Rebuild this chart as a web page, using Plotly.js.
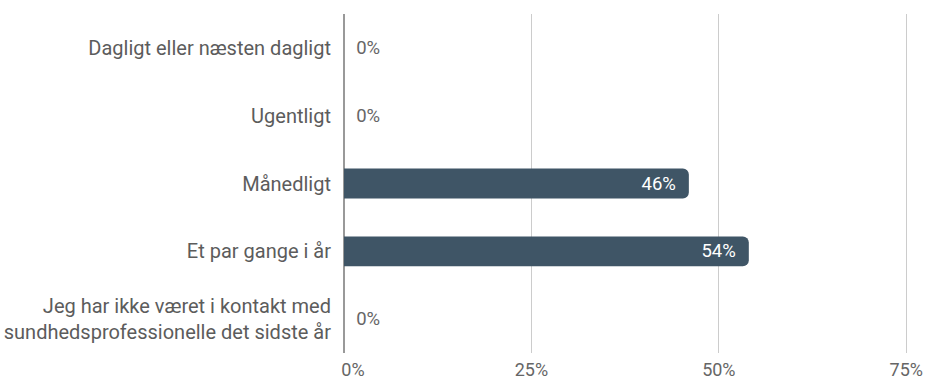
<!DOCTYPE html>
<html><head><meta charset="utf-8">
<script src="https://cdn.plot.ly/plotly-3.0.1.min.js"></script>
<style>html,body{margin:0;padding:0;background:#fff}</style>
</head><body>
<div id="chart" style="width:925px;height:381px"></div>
<script>
const categories = ["Dagligt eller næsten dagligt","Ugentligt","Månedligt","Et par gange i år","Jeg har ikke været i kontakt med<br>sundhedsprofessionelle det sidste år"];
const values = [0, 0, 46, 54, 0];
const tickVals = [0, 25, 50, 75];
const tickText = ["0%", "25%", "50%", "75%"];

const NB = "\u00a0\u00a0";
const labels = values.map(v => v + "%");
const inside = values.map(v => v > 10);
const positions = inside.map(i => i ? "inside" : "outside");
const templates = inside.map(i => i ? "%{text}" + NB : NB + "%{text}");
const textColors = inside.map(i => i ? "#ffffff" : "#666666");
const shownTicks = tickText.map((t, i) => i === 0 ? NB + NB + t : t);

Plotly.newPlot("chart", [{
  type: "bar",
  orientation: "h",
  y: categories,
  x: values,
  text: labels,
  texttemplate: templates,
  textposition: positions,
  insidetextanchor: "end",
  textfont: {family: "Roboto", size: 18.5, color: textColors},
  cliponaxis: false,
  constraintext: "none",
  marker: {color: "#3f5566", cornerradius: 6},
  width: 0.44,
  hoverinfo: "none"
}], {
  width: 925, height: 381,
  margin: {l: 344, r: 15, t: 14, b: 28},
  paper_bgcolor: "#fff", plot_bgcolor: "#fff",
  font: {family: "Roboto", size: 19, color: "#5c5c5c"},
  showlegend: false,
  xaxis: {
    range: [0, 75.5], tickvals: tickVals, ticktext: shownTicks,
    showgrid: true, gridcolor: "#cccccc", gridwidth: 1,
    zeroline: true, zerolinecolor: "#999999", zerolinewidth: 2,
    ticklabelstandoff: 4,
    tickfont: {family: "Roboto", size: 18, color: "#666666"},
    fixedrange: true
  },
  yaxis: {
    autorange: "reversed", showgrid: false, zeroline: false,
    ticklabelstandoff: 12,
    tickfont: {family: "Roboto", size: 20, color: "#5c5c5c"},
    fixedrange: true
  }
}, {displayModeBar: false, staticPlot: true});
</script>
</body></html>
